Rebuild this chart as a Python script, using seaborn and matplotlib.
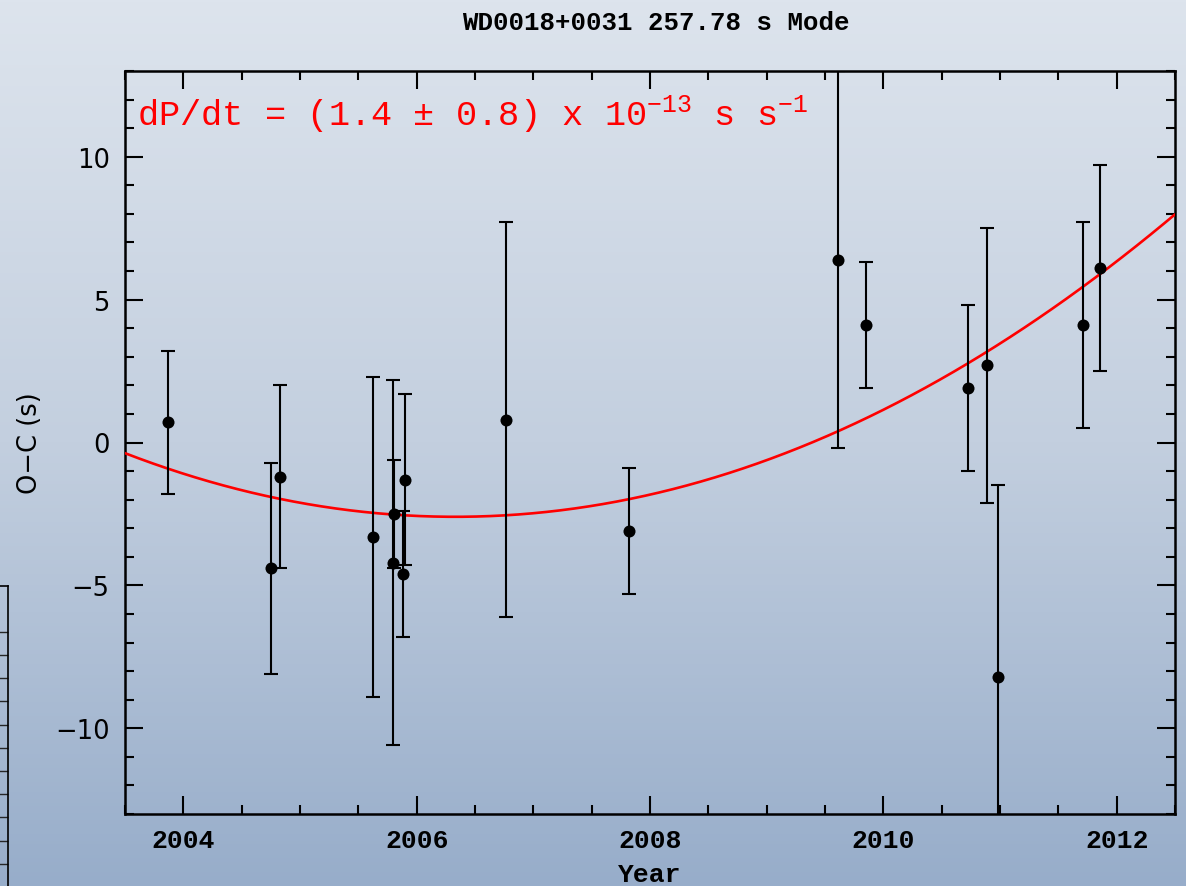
import numpy as np
import pandas as pd
import matplotlib
matplotlib.use("Agg")
import matplotlib.pyplot as plt
from matplotlib.ticker import MultipleLocator
from matplotlib.colors import LinearSegmentedColormap
import seaborn as sns

# ---------------- data ----------------
years = [2003.87, 2004.75, 2004.83, 2005.63, 2005.80, 2005.81, 2005.88, 2005.90,
         2006.77, 2007.82, 2009.61, 2009.85, 2010.73, 2010.89, 2010.98, 2011.71, 2011.86]
o_minus_c = [0.7, -4.4, -1.2, -3.3, -4.2, -2.5, -4.6, -1.3,
             0.8, -3.1, 6.4, 4.1, 1.9, 2.7, -8.2, 4.1, 6.1]
errors = [2.5, 3.7, 3.2, 5.6, 6.4, 1.9, 2.2, 3.0,
          6.9, 2.2, 6.6, 2.2, 2.9, 4.8, 6.7, 3.6, 3.6]

# quadratic fit (dP/dt) drawn in red: y = curv * (t - t_vertex)^2 + y_vertex
fit_vertex_year = 2006.33
fit_vertex_value = -2.6
fit_curvature = 0.278

x_ticks = [2004, 2006, 2008, 2010, 2012]
y_ticks = [-10, -5, 0, 5, 10]

title_text = "WD0018+0031 257.78 s Mode"
fit_label = r"dP/dt = (1.4 $\pm$ 0.8) x 10$^{-13}$ s s$^{-1}$"

df = pd.DataFrame({"year": years, "oc": o_minus_c, "err": errors})

# ---------------- style ----------------
sns.set_theme(style="ticks")
plt.rcParams["font.family"] = ["DejaVu Sans"]
plt.rcParams["mathtext.fontset"] = "custom"
plt.rcParams["mathtext.rm"] = "Liberation Mono"
plt.rcParams["mathtext.it"] = "Liberation Mono"
plt.rcParams["mathtext.bf"] = "Liberation Mono:bold"

fig = plt.figure(figsize=(11.86, 8.87), dpi=100)

# gradient background
bg = fig.add_axes([0, 0, 1, 1], zorder=-10)
grad = np.linspace(0, 1, 256).reshape(-1, 1)
cmap = LinearSegmentedColormap.from_list("bg", ["#dde4ed", "#c3cfdf", "#97adca"])
bg.imshow(grad, aspect="auto", cmap=cmap, extent=[0, 1, 0, 1], origin="upper")
bg.set_axis_off()

# partial neighbouring plot edge at lower-left
side = fig.add_axes([-0.2, -0.01, 0.2068, 0.3485], zorder=-5)
side.patch.set_alpha(0)
for s in ["left", "bottom"]:
    side.spines[s].set_visible(False)
for s in ["right", "top"]:
    side.spines[s].set_linewidth(1.2)
    side.spines[s].set_color("black")
side.set_xlim(0, 1)
side.set_ylim(-310, 0)
side.yaxis.tick_right()
side.set_yticks(np.arange(-46, -310, -23.3))
side.tick_params(axis="y", direction="in", length=7, width=1, labelright=False, right=True)
side.set_xticks([])

# main axes
ax = fig.add_axes([0.1054, 0.0812, 0.8853, 0.8376])
ax.patch.set_alpha(0)

xs = np.linspace(2003.5, 2012.5, 300)
curve = pd.DataFrame({"year": xs,
                      "fit": fit_curvature * (xs - fit_vertex_year) ** 2 + fit_vertex_value})
sns.lineplot(data=curve, x="year", y="fit", ax=ax, color="#ff0000", linewidth=1.9, zorder=3)

ax.errorbar(df["year"], df["oc"], yerr=df["err"], fmt="none", ecolor="black",
            elinewidth=1.5, capsize=5, capthick=1.5, zorder=4)
sns.scatterplot(data=df, x="year", y="oc", ax=ax, color="black", s=75,
                edgecolor="black", linewidth=0, zorder=5)

ax.set_xlim(2003.5, 2012.5)
ax.set_ylim(-13, 13)
ax.set_xticks(x_ticks)
ax.set_yticks(y_ticks)
ax.xaxis.set_minor_locator(MultipleLocator(0.5))
ax.yaxis.set_minor_locator(MultipleLocator(1))
ax.tick_params(which="both", direction="in", top=True, right=True, width=1.5, color="black")
ax.tick_params(which="major", length=13)
ax.tick_params(which="minor", length=6.5)
ax.tick_params(axis="x", pad=10)
ax.tick_params(axis="y", pad=11)
for s in ax.spines.values():
    s.set_linewidth(1.8)
    s.set_color("black")

ax.set_yticklabels(["\u221210", "\u22125", "0", "5", "10"])
for lab in ax.get_xticklabels():
    lab.set_fontfamily("Liberation Mono")
    lab.set_fontweight("bold")
    lab.set_fontsize(19)
    lab.set_color("black")
for lab in ax.get_yticklabels():
    lab.set_fontfamily("DejaVu Sans")
    lab.set_fontsize(18.5)
    lab.set_color("black")

ax.set_xlabel("Year", fontfamily="Liberation Mono", fontweight="bold", fontsize=19,
              color="black", labelpad=7)
ax.set_ylabel("O\u2212C (s)", fontfamily="DejaVu Sans", fontsize=18.5, color="black",
              labelpad=9)

fig.text(0.553, 0.974, title_text, ha="center", va="center", fontfamily="Liberation Mono",
         fontweight="bold", fontsize=18.5, color="black")
ax.text(0.011, 0.942, fit_label, transform=ax.transAxes, ha="left", va="center",
        fontfamily="Liberation Mono", fontsize=25.5, color="#ff0000")

fig.savefig("out.png", dpi=100)
